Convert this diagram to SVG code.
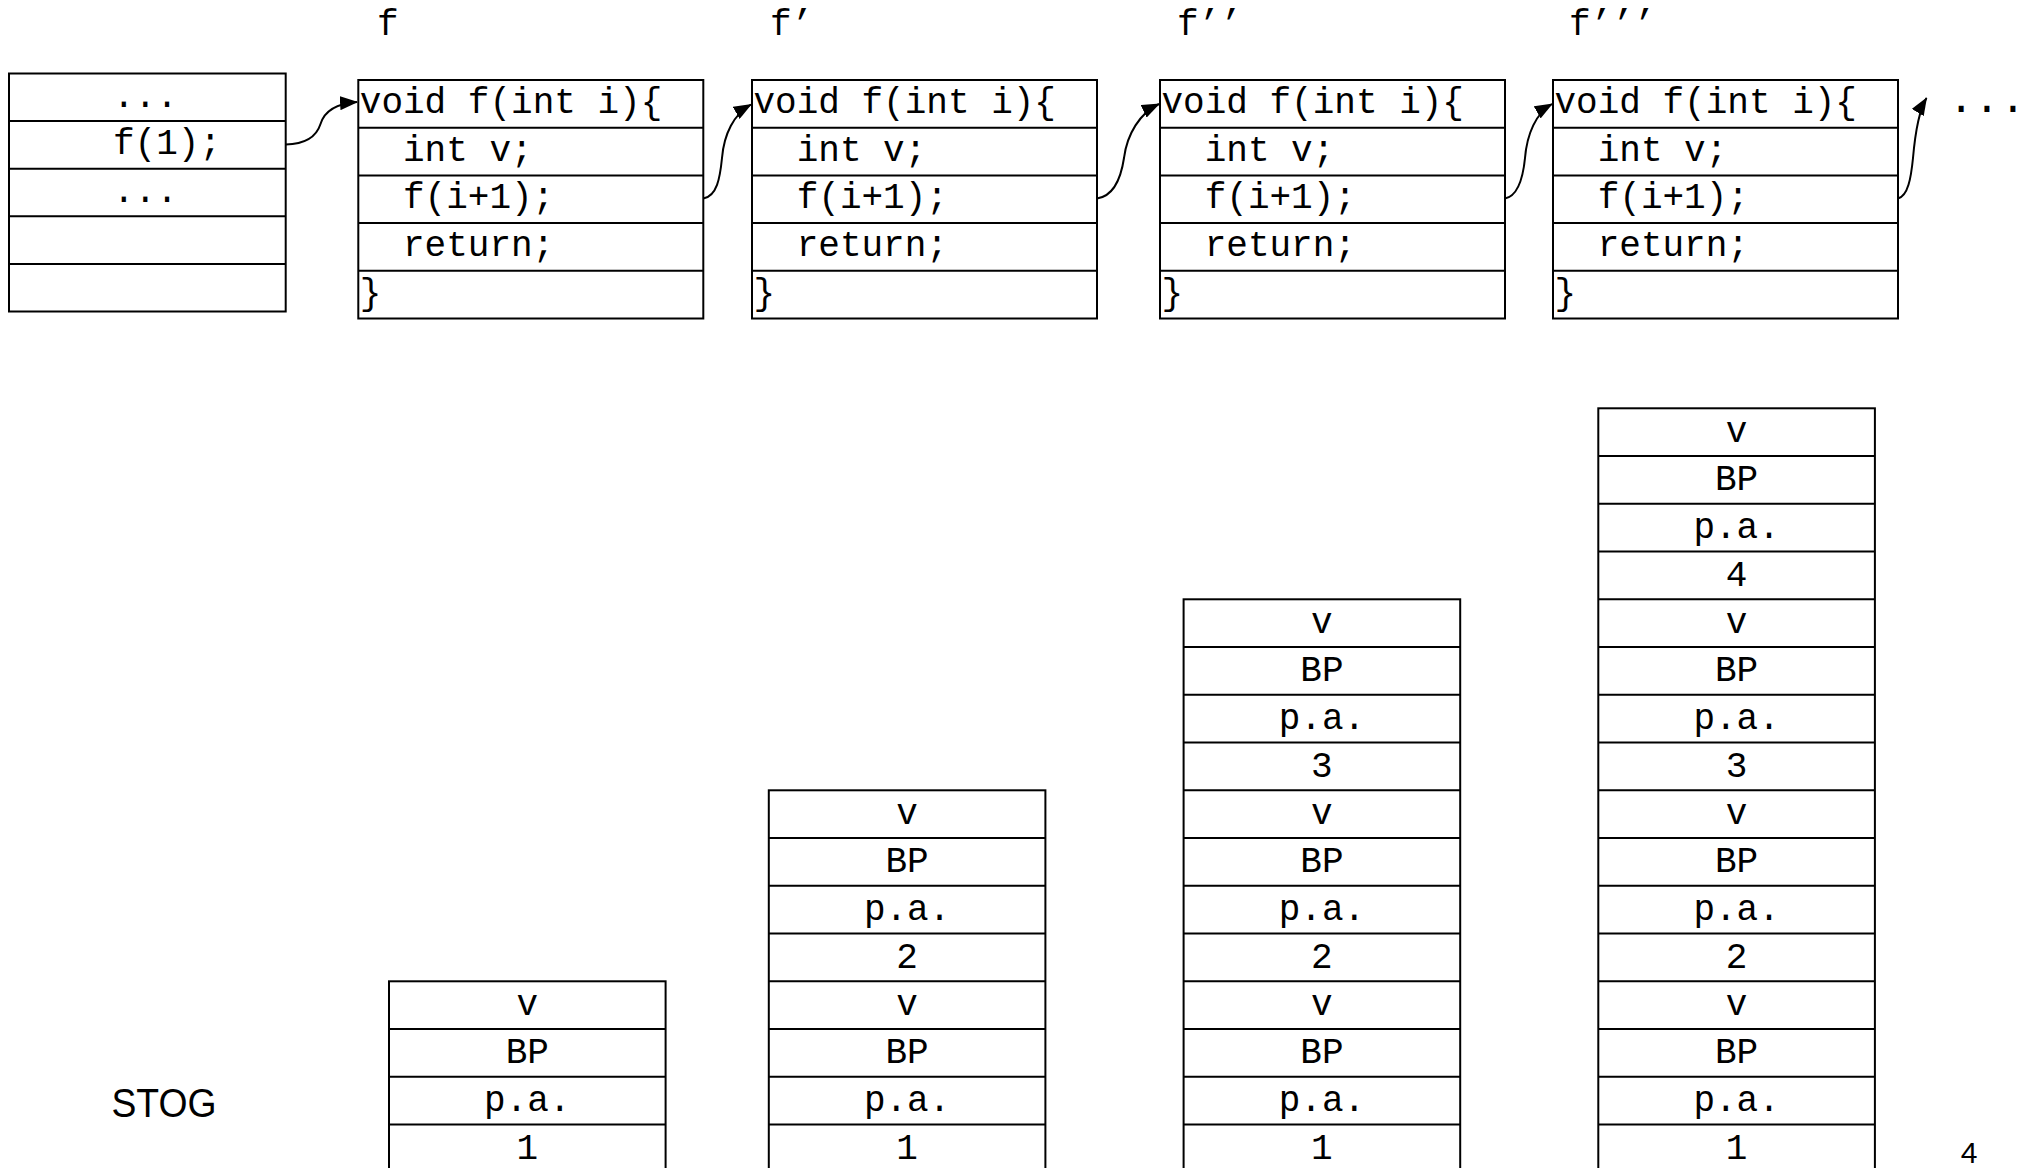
<svg xmlns="http://www.w3.org/2000/svg" width="2026" height="1168" viewBox="0 0 2026 1168">
<style>
.box{fill:#fff;stroke:#000;stroke-width:2}
.ln{stroke:#000;stroke-width:2;fill:none}
.code{font-family:'Liberation Mono','Courier New',monospace;font-size:36px;fill:#000}
.mid{text-anchor:middle}
.conn{fill:none;stroke:#000;stroke-width:2;marker-end:url(#ah)}
.sans{font-family:'Liberation Sans',Arial,sans-serif;fill:#000}
</style>
<defs>
<marker id="ah" viewBox="0 0 18 14" refX="17" refY="7" markerWidth="18" markerHeight="14" markerUnits="userSpaceOnUse" orient="auto">
<path d="M0,0 L18,7 L0,14 z" fill="#000"/>
</marker>
</defs>
<rect width="2026" height="1168" fill="#fff"/>

<g id="titles" class="code">
<text x="377" y="35">f</text>
<text x="770" y="35">f’</text>
<text x="1177" y="35">f’’</text>
<text x="1569" y="35">f’’’</text>
</g>

<g id="caller">
<rect class="box" x="9" y="73.5" width="276.7" height="238"/>
<path class="ln" d="M9,121.1H285.7M9,168.7H285.7M9,216.3H285.7M9,263.9H285.7"/>
<text class="code" x="113" y="106.5">...</text>
<text class="code" x="113" y="154">f(1);</text>
<text class="code" x="113" y="201.7">...</text>
</g>

<g id="f0">
<rect class="box" x="358.3" y="80" width="345" height="238.5"/>
<path class="ln" d="M358.3,127.7h345M358.3,175.4h345M358.3,223.1h345M358.3,270.8h345"/>
<text class="code" x="359.8" y="113">void f(int i){</text>
<text class="code" x="403" y="160.7">int v;</text>
<text class="code" x="403" y="208.4">f(i+1);</text>
<text class="code" x="403" y="256.1">return;</text>
<text class="code" x="359.8" y="303.8">}</text>
</g>

<g id="f1">
<rect class="box" x="752" y="80" width="345" height="238.5"/>
<path class="ln" d="M752,127.7h345M752,175.4h345M752,223.1h345M752,270.8h345"/>
<text class="code" x="753.5" y="113">void f(int i){</text>
<text class="code" x="796.7" y="160.7">int v;</text>
<text class="code" x="796.7" y="208.4">f(i+1);</text>
<text class="code" x="796.7" y="256.1">return;</text>
<text class="code" x="753.5" y="303.8">}</text>
</g>

<g id="f2">
<rect class="box" x="1160" y="80" width="345" height="238.5"/>
<path class="ln" d="M1160,127.7h345M1160,175.4h345M1160,223.1h345M1160,270.8h345"/>
<text class="code" x="1161.5" y="113">void f(int i){</text>
<text class="code" x="1204.7" y="160.7">int v;</text>
<text class="code" x="1204.7" y="208.4">f(i+1);</text>
<text class="code" x="1204.7" y="256.1">return;</text>
<text class="code" x="1161.5" y="303.8">}</text>
</g>

<g id="f3">
<rect class="box" x="1553" y="80" width="345" height="238.5"/>
<path class="ln" d="M1553,127.7h345M1553,175.4h345M1553,223.1h345M1553,270.8h345"/>
<text class="code" x="1554.5" y="113">void f(int i){</text>
<text class="code" x="1597.7" y="160.7">int v;</text>
<text class="code" x="1597.7" y="208.4">f(i+1);</text>
<text class="code" x="1597.7" y="256.1">return;</text>
<text class="code" x="1554.5" y="303.8">}</text>
</g>

<g id="more">
<text class="code mid" x="1987" y="112" style="font-size:43px">...</text>
</g>

<g id="connectors">
<path class="conn" d="M285.7,144.5 C308,144 317,135 320.5,124 C324.5,111 336,103.5 357,102"/>
<path class="conn" d="M703.3,198.5 C717,196 720,178 722,158 C724,134 734,114 751,104.5"/>
<path class="conn" d="M1097,198.5 C1114,196 1121,178 1124,158 C1127,134 1140,113 1159,104"/>
<path class="conn" d="M1505,198.5 C1518,196 1523,178 1525,158 C1527,134 1536,113 1552,104"/>
<path class="conn" d="M1898,198.5 C1908,196 1911,178 1913,158 C1915,135 1918,112 1926.5,98"/>
</g>

<g id="stack1">
<rect class="box" x="389" y="981.3" width="276.6" height="191"/>
<path class="ln" d="M389,1029h276.6M389,1076.8h276.6M389,1124.5h276.6"/>
<text class="code mid" x="527.3" y="1015.3">v</text>
<text class="code mid" x="527.3" y="1063">BP</text>
<text class="code mid" x="527.3" y="1110.8">p.a.</text>
<text class="code mid" x="527.3" y="1158.5">1</text>
</g>

<g id="stack2">
<rect class="box" x="768.8" y="790.3" width="276.6" height="382"/>
<path class="ln" d="M768.8,838h276.6M768.8,885.8h276.6M768.8,933.5h276.6M768.8,981.3h276.6M768.8,1029h276.6M768.8,1076.8h276.6M768.8,1124.5h276.6"/>
<text class="code mid" x="907.1" y="824.3">v</text>
<text class="code mid" x="907.1" y="872">BP</text>
<text class="code mid" x="907.1" y="919.8">p.a.</text>
<text class="code mid" x="907.1" y="967.5">2</text>
<text class="code mid" x="907.1" y="1015.3">v</text>
<text class="code mid" x="907.1" y="1063">BP</text>
<text class="code mid" x="907.1" y="1110.8">p.a.</text>
<text class="code mid" x="907.1" y="1158.5">1</text>
</g>

<g id="stack3">
<rect class="box" x="1183.6" y="599.3" width="276.6" height="573"/>
<path class="ln" d="M1183.6,647h276.6M1183.6,694.8h276.6M1183.6,742.5h276.6M1183.6,790.3h276.6M1183.6,838h276.6M1183.6,885.8h276.6M1183.6,933.5h276.6M1183.6,981.3h276.6M1183.6,1029h276.6M1183.6,1076.8h276.6M1183.6,1124.5h276.6"/>
<text class="code mid" x="1321.9" y="633.3">v</text>
<text class="code mid" x="1321.9" y="681">BP</text>
<text class="code mid" x="1321.9" y="728.8">p.a.</text>
<text class="code mid" x="1321.9" y="776.5">3</text>
<text class="code mid" x="1321.9" y="824.3">v</text>
<text class="code mid" x="1321.9" y="872">BP</text>
<text class="code mid" x="1321.9" y="919.8">p.a.</text>
<text class="code mid" x="1321.9" y="967.5">2</text>
<text class="code mid" x="1321.9" y="1015.3">v</text>
<text class="code mid" x="1321.9" y="1063">BP</text>
<text class="code mid" x="1321.9" y="1110.8">p.a.</text>
<text class="code mid" x="1321.9" y="1158.5">1</text>
</g>

<g id="stack4">
<rect class="box" x="1598.3" y="408.3" width="276.6" height="764"/>
<path class="ln" d="M1598.3,456h276.6M1598.3,503.8h276.6M1598.3,551.5h276.6M1598.3,599.3h276.6M1598.3,647h276.6M1598.3,694.8h276.6M1598.3,742.5h276.6M1598.3,790.3h276.6M1598.3,838h276.6M1598.3,885.8h276.6M1598.3,933.5h276.6M1598.3,981.3h276.6M1598.3,1029h276.6M1598.3,1076.8h276.6M1598.3,1124.5h276.6"/>
<text class="code mid" x="1736.6" y="442.3">v</text>
<text class="code mid" x="1736.6" y="490">BP</text>
<text class="code mid" x="1736.6" y="537.8">p.a.</text>
<text class="code mid" x="1736.6" y="585.5">4</text>
<text class="code mid" x="1736.6" y="633.3">v</text>
<text class="code mid" x="1736.6" y="681">BP</text>
<text class="code mid" x="1736.6" y="728.8">p.a.</text>
<text class="code mid" x="1736.6" y="776.5">3</text>
<text class="code mid" x="1736.6" y="824.3">v</text>
<text class="code mid" x="1736.6" y="872">BP</text>
<text class="code mid" x="1736.6" y="919.8">p.a.</text>
<text class="code mid" x="1736.6" y="967.5">2</text>
<text class="code mid" x="1736.6" y="1015.3">v</text>
<text class="code mid" x="1736.6" y="1063">BP</text>
<text class="code mid" x="1736.6" y="1110.8">p.a.</text>
<text class="code mid" x="1736.6" y="1158.5">1</text>
</g>

<g id="labels">
<text class="sans" x="111.5" y="1117.3" font-size="40" textLength="105" lengthAdjust="spacingAndGlyphs">STOG</text>
<text class="sans mid" x="1969" y="1163" font-size="30">4</text>
</g>
</svg>
